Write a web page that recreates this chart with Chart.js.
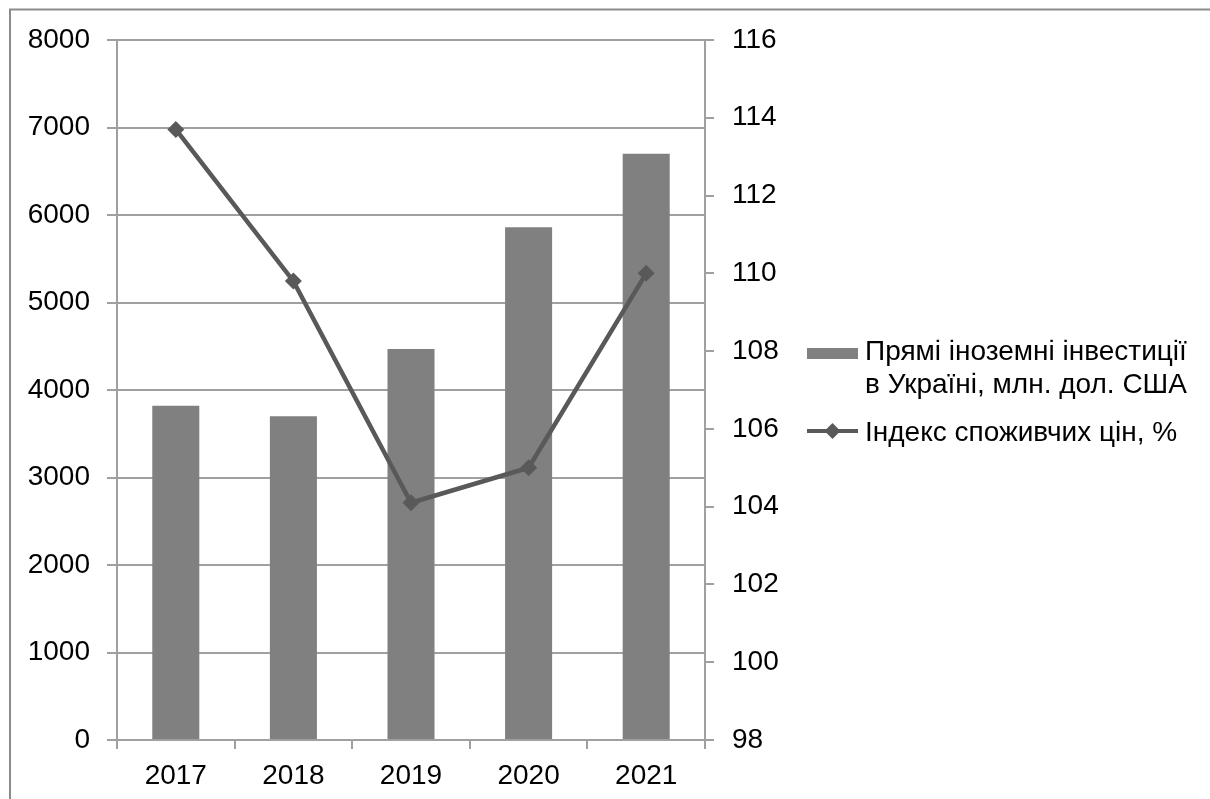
<!DOCTYPE html>
<html>
<head>
<meta charset="utf-8">
<script src="https://cdn.jsdelivr.net/npm/chart.js@4/dist/chart.umd.min.js"></script>
<style>
  html, body { margin: 0; padding: 0; background: #fff; }
  #chart { display: block; }
</style>
</head>
<body>
<canvas id="chart" width="1210" height="799"></canvas>
<script>
const years = ["2017", "2018", "2019", "2020", "2021"];
const fdi = [3820, 3700, 4470, 5860, 6700];
const cpi = [113.7, 109.8, 104.1, 105.0, 110.0];
const fdiLabel = ["Прямі іноземні інвестиції", "в Україні, млн. дол. США"];
const cpiLabel = "Індекс споживчих цін, %";

const FONT = "'Liberation Sans', Arial, sans-serif";
const GRID = "#a0a0a0";
const BAR = "#808080";
const LINE = "#595959";

// frame on the left and top edges
const framePlugin = {
  id: "frame",
  beforeDraw(chart) {
    const c = chart.ctx;
    c.save();
    c.strokeStyle = "#8c8c8c";
    c.lineWidth = 2;
    c.beginPath();
    c.moveTo(10, chart.height);
    c.lineTo(10, 9.5);
    c.lineTo(chart.width, 9.5);
    c.stroke();
    c.restore();
  },
};

// legend to the right of the plot
const sideLegend = {
  id: "sideLegend",
  afterDraw(chart) {
    const c = chart.ctx;
    const x0 = chart.chartArea.right + 102;
    const sw = 51;
    const tx = x0 + 58;
    c.save();
    c.font = "28px " + FONT;
    c.textBaseline = "alphabetic";

    c.fillStyle = BAR;
    c.fillRect(x0, 348, sw, 11);
    c.fillStyle = "#000";
    fdiLabel.forEach((t, i) => c.fillText(t, tx, 360 + i * 33));

    const ly = 431;
    c.strokeStyle = LINE;
    c.lineWidth = 4;
    c.beginPath();
    c.moveTo(x0, ly);
    c.lineTo(x0 + sw, ly);
    c.stroke();
    const cx = x0 + sw / 2;
    c.fillStyle = LINE;
    c.beginPath();
    c.moveTo(cx - 8, ly);
    c.lineTo(cx, ly - 8);
    c.lineTo(cx + 8, ly);
    c.lineTo(cx, ly + 8);
    c.closePath();
    c.fill();
    c.fillStyle = "#000";
    c.fillText(cpiLabel, tx, 441);
    c.restore();
  },
};

const plain = (v) => String(v);

const chartEl = document.getElementById("chart");
new Chart(chartEl, {
  type: "bar",
  data: {
    labels: years,
    datasets: [
      {
        type: "line",
        label: cpiLabel,
        data: cpi,
        yAxisID: "y1",
        borderColor: LINE,
        backgroundColor: LINE,
        borderWidth: 4.5,
        pointStyle: "rectRot",
        pointRadius: 8.5,
        pointHoverRadius: 8.5,
        pointBorderWidth: 0,
        tension: 0,
        order: 1,
      },
      {
        type: "bar",
        label: fdiLabel.join(" "),
        data: fdi,
        yAxisID: "y",
        backgroundColor: BAR,
        barPercentage: 0.5,
        categoryPercentage: 0.8,
        order: 2,
      },
    ],
  },
  options: {
    responsive: false,
    animation: false,
    devicePixelRatio: 1,
    layout: { padding: { top: 40, right: 385, left: 0, bottom: 0 } },
    plugins: {
      legend: { display: false },
      tooltip: { enabled: false },
    },
    scales: {
      x: {
        offset: true,
        grid: {
          offset: true,
          drawOnChartArea: false,
          tickLength: 9,
          color: GRID,
          lineWidth: 2,
        },
        border: { color: GRID, width: 2 },
        ticks: { color: "#000", font: { family: FONT, size: 28 }, padding: 10 },
        afterFit(scale) {
          scale.height = 59;
        },
      },
      y: {
        position: "left",
        min: 0,
        max: 8000,
        ticks: {
          stepSize: 1000,
          color: "#000",
          font: { family: FONT, size: 28 },
          padding: 17,
          callback: plain,
        },
        grid: { color: GRID, lineWidth: 2, tickLength: 10 },
        border: { color: GRID, width: 2 },
        afterFit(scale) {
          scale.width = 117;
        },
      },
      y1: {
        position: "right",
        min: 98,
        max: 116,
        ticks: {
          stepSize: 2,
          color: "#000",
          font: { family: FONT, size: 28 },
          padding: 18,
          callback: plain,
        },
        grid: { drawOnChartArea: false, color: GRID, lineWidth: 2, tickLength: 9 },
        border: { color: GRID, width: 2 },
        afterFit(scale) {
          scale.width = 120;
        },
      },
    },
  },
  plugins: [framePlugin, sideLegend],
});
</script>
</body>
</html>
